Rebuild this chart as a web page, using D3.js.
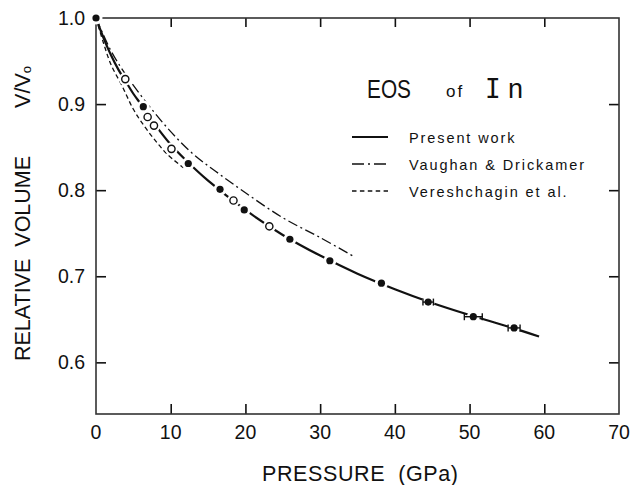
<!DOCTYPE html>
<html>
<head>
<meta charset="utf-8">
<script src="https://cdn.jsdelivr.net/npm/d3@7"></script>
<style>
  body { margin: 0; background: #fff; }
  svg { display: block; font-family: "Liberation Sans", Arial, sans-serif; }
</style>
</head>
<body>
<div id="chart"></div>
<script>
// Present work fitted curve (pressure GPa, V/V0)
var curveP = [0, 1, 2, 3, 4, 5, 6, 8, 10, 12, 15, 20, 25, 30, 35, 40, 45, 50, 55, 59.3];
var curveV = [1.0, 0.977, 0.957, 0.940, 0.926, 0.912, 0.900, 0.875, 0.853, 0.835, 0.811, 0.777, 0.748, 0.724, 0.703, 0.685, 0.669, 0.655, 0.642, 0.630];

// Present work measured points (filled) and pressure error
var filledP = [0, 6.33, 12.35, 16.6, 19.84, 25.95, 31.3, 38.2, 44.46, 50.5, 55.96];
var filledV = [1.0, 0.897, 0.831, 0.801, 0.777, 0.743, 0.718, 0.692, 0.670, 0.653, 0.640];
var filledErr = [0, 0, 0, 0, 0, 0, 0, 0, 0.7, 1.2, 0.8];

// Present work open points
var openP = [3.92, 6.91, 7.76, 10.1, 18.4, 23.2];
var openV = [0.929, 0.885, 0.875, 0.848, 0.788, 0.758];

// Vaughan & Drickamer
var vaughanP = [0, 2, 4, 7, 10, 13, 16, 20, 25, 30, 34.5];
var vaughanV = [1.0, 0.962, 0.934, 0.899, 0.868, 0.842, 0.822, 0.797, 0.768, 0.745, 0.723];

// Vereshchagin et al.
var vereshP = [0, 1, 2, 3.5, 5, 6.5, 8, 9.5, 11.7];
var vereshV = [1.0, 0.971, 0.946, 0.921, 0.894, 0.874, 0.857, 0.842, 0.826];

// Tick labels
var xTicks = [0, 10, 20, 30, 40, 50, 60, 70];
var yTicks = [0.6, 0.7, 0.8, 0.9, 1.0];

var legendLabels = ['Present work', 'Vaughan & Drickamer', 'Vereshchagin et al.'];

var width = 636, height = 485;
var margin = {top: 18, right: 17, bottom: 71, left: 96};

var svg = d3.select('#chart').append('svg')
  .attr('width', width)
  .attr('height', height);

var x = d3.scaleLinear().domain([0, 70]).range([margin.left, width - margin.right]);
var y = d3.scaleLinear().domain([0.54, 1.0]).range([height - margin.bottom, margin.top]);

var ink = '#111';

// Axes with inward ticks
var innerX = xTicks.filter(function (d) { return d > 0 && d < 70; });
var innerY = yTicks.filter(function (d) { return d < 1.0; });

svg.append('g')
  .attr('transform', 'translate(0,' + y(0.54) + ')')
  .call(d3.axisTop(x).tickValues(innerX).tickSize(10).tickFormat(''))
  .call(function (g) { g.select('.domain').remove(); });
svg.append('g')
  .attr('transform', 'translate(0,' + y(1.0) + ')')
  .call(d3.axisBottom(x).tickValues(innerX).tickSize(9).tickFormat(''))
  .call(function (g) { g.select('.domain').remove(); });
svg.append('g')
  .attr('transform', 'translate(' + x(0) + ',0)')
  .call(d3.axisRight(y).tickValues(innerY).tickSize(10).tickFormat(''))
  .call(function (g) { g.select('.domain').remove(); });
svg.append('g')
  .attr('transform', 'translate(' + x(70) + ',0)')
  .call(d3.axisLeft(y).tickValues(innerY).tickSize(10).tickFormat(''))
  .call(function (g) { g.select('.domain').remove(); });

svg.selectAll('.tick line').attr('stroke', ink).attr('stroke-width', 1.6);

// Frame
svg.append('rect')
  .attr('x', x(0)).attr('y', y(1.0))
  .attr('width', x(70) - x(0)).attr('height', y(0.54) - y(1.0))
  .attr('fill', 'none').attr('stroke', '#333').attr('stroke-width', 1.6);

// Tick labels
svg.append('g').selectAll('text')
  .data(xTicks).enter().append('text')
  .attr('x', function (d) { return x(d); })
  .attr('y', y(0.54) + 25)
  .attr('text-anchor', 'middle')
  .attr('font-size', 19.5)
  .attr('fill', ink)
  .text(function (d) { return d; });

svg.append('g').selectAll('text')
  .data(yTicks).enter().append('text')
  .attr('x', x(0) - 11)
  .attr('y', function (d) { return y(d) + 7; })
  .attr('text-anchor', 'end')
  .attr('font-size', 19.5)
  .attr('fill', ink)
  .text(function (d) { return d.toFixed(1); });

// Axis titles
svg.append('text')
  .attr('x', 262).attr('y', 481)
  .attr('font-size', 21.5)
  .attr('fill', ink)
  .attr('letter-spacing', 0.6)
  .attr('xml:space', 'preserve')
  .text('PRESSURE  (GPa)');

var yl = svg.append('text')
  .attr('transform', 'translate(30,361) rotate(-90)')
  .attr('font-size', 21.5)
  .attr('fill', ink)
  .attr('xml:space', 'preserve');
yl.append('tspan').text('RELATIVE  VOLUME');
yl.append('tspan').attr('dx', 48).text('V/V');
yl.append('tspan').attr('font-size', 13).attr('dy', 1).text('o');

// Title
var title = svg.append('text').attr('y', 98).attr('fill', ink);
title.append('tspan').attr('x', 367).attr('font-size', 26)
  .attr('textLength', 44).attr('lengthAdjust', 'spacingAndGlyphs').text('EOS');
title.append('tspan').attr('x', 446).attr('font-size', 17)
  .attr('letter-spacing', 2).attr('dy', -1).text('of');
title.append('tspan').attr('x', 485).attr('y', 98).attr('font-size', 26)
  .attr('font-family', '"DejaVu Sans Mono", monospace').text('I');
title.append('tspan').attr('x', 508).attr('font-size', 27).text('n');

// Curves
var line = d3.line()
  .x(function (d) { return x(d[0]); })
  .y(function (d) { return y(d[1]); })
  .curve(d3.curveCatmullRom.alpha(0.5));

function pairs(a, b) { return a.map(function (v, i) { return [v, b[i]]; }); }

svg.append('path')
  .attr('d', line(pairs(vereshP, vereshV)))
  .attr('fill', 'none').attr('stroke', ink).attr('stroke-width', 1.3)
  .attr('stroke-dasharray', '4.5,3');

svg.append('path')
  .attr('d', line(pairs(vaughanP, vaughanV)))
  .attr('fill', 'none').attr('stroke', ink).attr('stroke-width', 1.3)
  .attr('stroke-dasharray', '10,3.5,2,3.5');

svg.append('path')
  .attr('d', line(pairs(curveP, curveV)))
  .attr('fill', 'none').attr('stroke', ink).attr('stroke-width', 2.2);

// Markers: white halos break the line around each point
var filled = filledP.map(function (p, i) { return {p: p, v: filledV[i], e: filledErr[i]}; });
var open = pairs(openP, openV);

svg.append('g').selectAll('circle')
  .data(filled.concat(open.map(function (d) { return {p: d[0], v: d[1], e: 0}; })))
  .enter().append('circle')
  .attr('cx', function (d) { return x(d.p); })
  .attr('cy', function (d) { return y(d.v); })
  .attr('r', 6.5)
  .attr('fill', '#fff');

var eb = svg.append('g').attr('stroke', ink).attr('stroke-width', 1.4);
filled.filter(function (d) { return d.e > 0; }).forEach(function (d) {
  var cy = y(d.v);
  eb.append('line').attr('x1', x(d.p - d.e)).attr('x2', x(d.p + d.e)).attr('y1', cy).attr('y2', cy);
  eb.append('line').attr('x1', x(d.p - d.e)).attr('x2', x(d.p - d.e)).attr('y1', cy - 3.5).attr('y2', cy + 3.5);
  eb.append('line').attr('x1', x(d.p + d.e)).attr('x2', x(d.p + d.e)).attr('y1', cy - 3.5).attr('y2', cy + 3.5);
});

svg.append('g').selectAll('circle')
  .data(filled).enter().append('circle')
  .attr('cx', function (d) { return x(d.p); })
  .attr('cy', function (d) { return y(d.v); })
  .attr('r', 3.6)
  .attr('fill', ink);

svg.append('g').selectAll('circle')
  .data(open).enter().append('circle')
  .attr('cx', function (d) { return x(d[0]); })
  .attr('cy', function (d) { return y(d[1]); })
  .attr('r', 3.6)
  .attr('fill', '#fff')
  .attr('stroke', ink)
  .attr('stroke-width', 1.4);

// Legend
var legendY = [137, 164, 191];
var legendDash = [null, '12,4,2,4', '4.5,3.4'];
var legendW = [2.2, 1.3, 1.3];
var lg = svg.append('g');
legendLabels.forEach(function (label, i) {
  lg.append('line')
    .attr('x1', 352).attr('x2', 388)
    .attr('y1', legendY[i]).attr('y2', legendY[i])
    .attr('stroke', ink).attr('stroke-width', legendW[i])
    .attr('stroke-dasharray', legendDash[i]);
  lg.append('text')
    .attr('x', 409).attr('y', legendY[i] + 5.5)
    .attr('font-size', 14.5)
    .attr('letter-spacing', 1.9)
    .attr('fill', ink)
    .text(label);
});
</script>
</body>
</html>
